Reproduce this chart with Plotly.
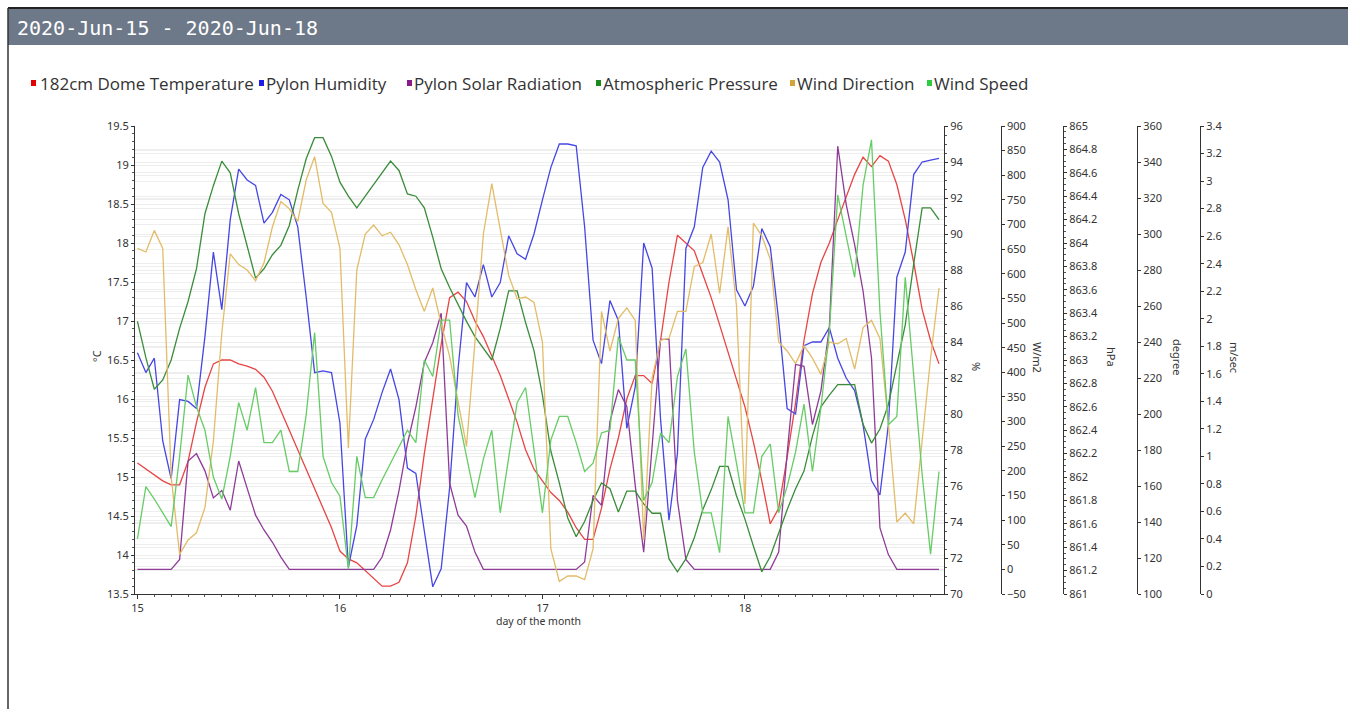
import plotly.graph_objects as go

# ---- data (hourly samples, day of month) ----
hours = [15 + i / 24 for i in range(96)]

temperature = [15.18, 15.10, 15.02, 14.95, 14.90, 14.90, 15.20, 15.70, 16.15, 16.45,
               16.50, 16.50, 16.45, 16.42, 16.38, 16.28, 16.10, 15.85, 15.60, 15.35,
               15.10, 14.85, 14.60, 14.35, 14.05, 13.95, 13.90, 13.80, 13.70, 13.60,
               13.60, 13.65, 13.90, 14.50, 15.30, 16.00, 16.70, 17.30, 17.37, 17.25,
               17.00, 16.80, 16.55, 16.30, 16.00, 15.70, 15.35, 15.10, 14.95, 14.80,
               14.70, 14.55, 14.35, 14.20, 14.20, 14.60, 15.10, 15.50, 16.00, 16.30,
               16.30, 16.20, 16.75, 17.50, 18.10, 18.00, 17.90, 17.60, 17.30, 16.95,
               16.60, 16.25, 15.90, 15.45, 14.95, 14.40, 14.60, 15.25, 15.95, 16.75,
               17.35, 17.75, 18.00, 18.30, 18.58, 18.88, 19.10, 18.98, 19.12, 19.05,
               18.75, 18.30, 17.75, 17.15, 16.75, 16.45]

humidity = [83.4, 82.3, 83.1, 78.5, 76.4, 80.8, 80.7, 80.3, 84.3, 89.0,
            85.8, 90.8, 93.6, 93.0, 92.7, 90.6, 91.2, 92.2, 91.9, 90.4,
            86.5, 82.3, 82.4, 82.3, 79.5, 71.5, 73.8, 78.6, 79.7, 81.2,
            82.5, 80.8, 77.0, 76.7, 73.5, 70.4, 71.4, 75.9, 82.5, 87.3,
            86.5, 88.3, 86.5, 87.3, 89.9, 88.9, 88.6, 90.0, 91.9, 93.7,
            95.0, 95.0, 94.9, 90.4, 84.1, 82.8, 86.3, 85.2, 79.2, 81.5,
            89.5, 88.1, 79.7, 74.1, 77.8, 89.2, 90.4, 93.7, 94.6, 94.0,
            91.9, 86.9, 86.0, 87.1, 90.3, 89.3, 85.2, 80.3, 80.0, 83.8,
            84.0, 84.0, 84.8, 83.1, 82.0, 81.3, 79.4, 76.3, 75.5, 79.4,
            87.6, 89.0, 93.3, 94.0, 94.1, 94.2]

solar = [0, 0, 0, 0, 0, 20, 220, 235, 200, 145,
         160, 120, 220, 165, 110, 80, 55, 25, 0, 0,
         0, 0, 0, 0, 0, 0, 0, 0, 0, 25,
         80, 160, 255, 330, 420, 460, 520, 175, 110, 88,
         35, 0, 0, 0, 0, 0, 0, 0, 0, 0,
         0, 0, 0, 15, 150, 130, 300, 365, 330, 170,
         35, 250, 467, 467, 140, 20, 0, 0, 0, 0,
         0, 0, 0, 0, 0, 0, 35, 235, 416, 412,
         294, 362, 490, 859, 741, 659, 565, 429, 84, 30,
         0, 0, 0, 0, 0, 0]

pressure = [863.33, 863.02, 862.75, 862.83, 863.00, 863.27, 863.50, 863.78, 864.25, 864.49,
            864.70, 864.60, 864.25, 863.97, 863.70, 863.78, 863.90, 863.98, 864.15, 864.45,
            864.72, 864.90, 864.90, 864.74, 864.52, 864.40, 864.30, 864.40, 864.50, 864.60,
            864.70, 864.62, 864.42, 864.40, 864.30, 864.05, 863.78, 863.62, 863.47, 863.33,
            863.20, 863.10, 863.00, 863.27, 863.59, 863.59, 863.32, 863.08, 862.70, 862.22,
            861.95, 861.65, 861.49, 861.62, 861.80, 861.95, 861.90, 861.70, 861.88, 861.88,
            861.77, 861.69, 861.69, 861.30, 861.19, 861.30, 861.48, 861.72, 861.89, 862.09,
            862.09, 861.84, 861.64, 861.41, 861.19, 861.32, 861.52, 861.72, 861.90, 862.05,
            862.35, 862.60, 862.70, 862.79, 862.79, 862.79, 862.45, 862.29, 862.41, 862.62,
            862.96, 863.30, 863.82, 864.30, 864.30, 864.20]

wind_dir = [292, 290, 302, 292, 165, 122, 130, 134, 148, 185,
            245, 289, 283, 280, 274, 284, 304, 318, 314, 307,
            330, 343, 317, 312, 292, 181, 280, 300, 305, 299,
            301, 294, 283, 269, 257, 270, 250, 232, 207, 182,
            240, 300, 328, 303, 277, 264, 265, 262, 240, 125,
            107, 110, 110, 108, 125, 257, 235, 253, 259, 252,
            130, 220, 241, 242, 257, 257, 282, 284, 300, 267,
            304, 260, 150, 306, 299, 286, 240, 235, 228, 238,
            231, 222, 240, 239, 242, 225, 248, 252, 242, 195,
            140, 145, 139, 185, 231, 270]

wind_speed = [0.40, 0.78, 0.69, 0.59, 0.49, 1.00, 1.59, 1.36, 1.19, 0.85,
              0.69, 1.00, 1.39, 1.19, 1.50, 1.10, 1.10, 1.19, 0.89, 0.89,
              1.30, 1.90, 1.00, 0.81, 0.71, 0.18, 1.00, 0.70, 0.70, 0.83,
              0.95, 1.07, 1.19, 1.10, 1.70, 1.58, 1.99, 1.99, 1.30, 1.00,
              0.70, 0.98, 1.19, 0.59, 1.00, 1.39, 1.50, 1.05, 0.59, 1.12,
              1.29, 1.29, 1.10, 0.89, 0.95, 1.17, 1.19, 1.87, 1.70, 1.70,
              0.68, 0.81, 1.17, 1.10, 1.58, 1.78, 1.03, 0.59, 0.59, 0.30,
              1.29, 0.95, 0.59, 0.59, 1.00, 1.09, 0.59, 0.78, 1.03, 1.38,
              0.89, 1.35, 1.90, 2.90, 2.60, 2.30, 2.97, 3.30, 2.05, 1.23,
              1.29, 2.30, 1.59, 0.87, 0.29, 0.89]

series_names = ["182cm Dome Temperature", "Pylon Humidity", "Pylon Solar Radiation",
                "Atmospheric Pressure", "Wind Direction", "Wind Speed"]
line_colors = ["#e84444", "#4646e4", "#8e3c98", "#3a8c3a", "#e2bc68", "#66cc66"]
legend_colors = ["#e00000", "#1c1ce6", "#8a1a8a", "#1a8a1a", "#d4a437", "#2ecc40"]
axis_titles = ["°C", "%", "W/m2", "hPa", "degree", "m/sec"]
x_ticks = [15, 16, 17, 18]

# ---- page geometry helpers (page pixels -> paper coords) ----
W, H = 1348, 709
ML, MR, MT, MB = 135, 0, 126, 115
PW, PH = W - ML - MR, H - MT - MB


def px(x):
    return (x - ML) / PW


def py(y):
    return (H - MB - y) / PH


fig = go.Figure()
yrefs = ["y", "y2", "y3", "y4", "y5", "y6"]
values = [temperature, humidity, solar, pressure, wind_dir, wind_speed]
for name, vals, col, yr in zip(series_names, values, line_colors, yrefs):
    fig.add_trace(go.Scatter(x=hours, y=vals, mode="lines", name=name, yaxis=yr,
                             line=dict(color=col, width=1.3), showlegend=False))

tickfont = dict(family="Noto Sans", size=11, color="#333")
grid = "#eeeeee"
common = dict(showline=True, linecolor="#333", linewidth=1, ticks="outside", ticklen=3,
              tickcolor="#333", tickfont=tickfont, showgrid=True, gridcolor=grid,
              zeroline=False, automargin=False, fixedrange=True)

fig.update_layout(
    width=W, height=H, margin=dict(l=ML, r=MR, t=MT, b=MB, pad=0),
    paper_bgcolor="white", plot_bgcolor="white", showlegend=False,
    xaxis=dict(domain=[0, px(944)], range=[14.988, 18.983], tickvals=x_ticks,
               showline=True, linecolor="#333", ticks="outside", ticklen=4, tickcolor="#333",
               tickfont=tickfont, showgrid=False, zeroline=False, automargin=False,
               fixedrange=True,
               minor=dict(ticks="outside", ticklen=2, dtick=1 / 12, tickcolor="#555")),
    yaxis=dict(range=[13.5, 19.5], dtick=0.5, tick0=13.5, side="left",
               minor=dict(ticks="outside", ticklen=2, dtick=0.1, tickcolor="#555"), **common),
    yaxis2=dict(range=[70, 96], dtick=2, tick0=70, overlaying="y", side="right", anchor="x",
                minor=dict(ticks="outside", ticklen=2, dtick=0.5, tickcolor="#555"), **common),
    yaxis3=dict(range=[-50, 900], dtick=50, tick0=-50, overlaying="y", side="right",
                anchor="free", position=px(1000.7), **common),
    yaxis4=dict(range=[861, 865], dtick=0.2, tick0=861, overlaying="y", side="right",
                anchor="free", position=px(1063),
                minor=dict(ticks="outside", ticklen=2, dtick=0.05, tickcolor="#555"), **common),
    yaxis5=dict(range=[100, 360], dtick=20, tick0=100, overlaying="y", side="right",
                anchor="free", position=px(1137), **common),
    yaxis6=dict(range=[0, 3.4], dtick=0.2, tick0=0, overlaying="y", side="right",
                anchor="free", position=px(1200), **common),
)

shapes = []
# header bar and frame
shapes.append(dict(type="rect", xref="paper", yref="paper", x0=px(8), x1=px(1348),
                   y0=py(45), y1=py(9), fillcolor="#6d7989", line=dict(width=0), layer="below"))
shapes.append(dict(type="line", xref="paper", yref="paper", x0=px(8), x1=px(1348),
                   y0=py(8), y1=py(8), line=dict(color="#222", width=2)))
shapes.append(dict(type="line", xref="paper", yref="paper", x0=px(8), x1=px(8),
                   y0=py(709), y1=py(8), line=dict(color="#333", width=1.5)))

annotations = [dict(text="2020-Jun-15 - 2020-Jun-18", xref="paper", yref="paper",
                    x=px(15), y=py(28), xanchor="left", yanchor="middle", showarrow=False,
                    font=dict(family="DejaVu Sans Mono", size=20, color="white"))]

# legend (squares + labels)
sq_x = [31, 259, 407, 596, 790, 927]
txt_x = [38, 264, 412, 601, 795, 932]
for name, col, sx, tx in zip(series_names, legend_colors, sq_x, txt_x):
    shapes.append(dict(type="rect", xref="paper", yref="paper", x0=px(sx), x1=px(sx + 5),
                       y0=py(86), y1=py(80), fillcolor=col, line=dict(width=0)))
    annotations.append(dict(text=name, xref="paper", yref="paper", x=px(tx), y=py(83),
                            xanchor="left", yanchor="middle", showarrow=False,
                            font=dict(family="Open Sans", size=17, color="#333")))

# axis titles
title_pos = [(96, 356, -90), (977, 366, 90), (1038, 357, 90), (1112, 357, 90),
             (1178, 357, 90), (1235, 357, 90)]
for t, (tx, ty, ang) in zip(axis_titles, title_pos):
    annotations.append(dict(text=t, xref="paper", yref="paper", x=px(tx), y=py(ty),
                            xanchor="center", yanchor="middle", showarrow=False, textangle=ang,
                            font=dict(family="Noto Sans", size=11, color="#333")))
annotations.append(dict(text="day of the month", xref="paper", yref="paper", x=px(538), y=py(621),
                        xanchor="center", yanchor="middle", showarrow=False,
                        font=dict(family="Noto Sans", size=10.5, color="#333")))

fig.update_layout(shapes=shapes, annotations=annotations)

fig.write_html("out.html", config={"displayModeBar": False},
               post_script="document.body.style.margin='0';document.body.style.overflow='hidden';")
